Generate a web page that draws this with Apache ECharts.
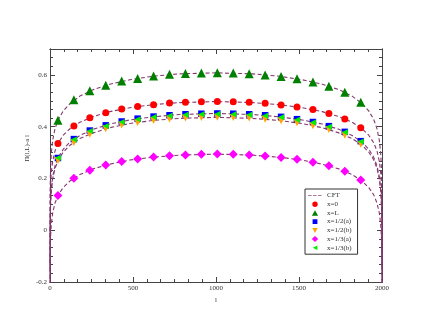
<!DOCTYPE html>
<html>
<head>
<meta charset="utf-8">
<script src="https://cdn.jsdelivr.net/npm/echarts@6/dist/echarts.min.js"></script>
<style>html,body{margin:0;padding:0;background:#fff}#c{width:430px;height:332px}</style>
</head>
<body>
<div id="c"></div>
<script>
// Marker positions (l)
var markerL = [48,144,240,336,432,528,624,720,816,912,1008,1104,1200,1296,1392,1488,1584,1680,1776,1872];
var x0 = [0.335,0.403,0.434,0.454,0.468,0.478,0.485,0.491,0.494,0.496,0.497,0.496,0.494,0.490,0.484,0.476,0.466,0.451,0.430,0.396];
var xL = [0.425,0.504,0.539,0.560,0.576,0.586,0.596,0.602,0.605,0.607,0.608,0.607,0.604,0.600,0.594,0.585,0.573,0.556,0.533,0.494];
var xHalfA = [0.279,0.352,0.385,0.405,0.420,0.431,0.439,0.444,0.448,0.450,0.451,0.450,0.448,0.444,0.438,0.429,0.418,0.402,0.380,0.344];
var xHalfB = [0.269,0.339,0.371,0.392,0.406,0.416,0.424,0.430,0.433,0.435,0.436,0.435,0.433,0.429,0.423,0.415,0.404,0.389,0.367,0.332];
var xThirdA = [0.134,0.201,0.232,0.252,0.265,0.275,0.283,0.288,0.291,0.293,0.294,0.293,0.291,0.287,0.281,0.274,0.263,0.249,0.228,0.194];
var xThirdB = [0.280,0.350,0.383,0.403,0.418,0.429,0.437,0.442,0.446,0.448,0.449,0.448,0.446,0.442,0.436,0.427,0.416,0.400,0.378,0.343];

// CFT curves sampled at l
var cftL = [0.02,0.1,0.5,1,2,4,8,16,30,50,80,120,180,260,360,480,620,780,1000,1220,1380,1520,1640,1740,1820,1880,1920,1950,1970,1984,1992,1996,1998,1999,1999.5,1999.9,1999.98];
var cftX0 = [-0.152,-0.051,0.050,0.093,0.136,0.180,0.223,0.266,0.306,0.338,0.367,0.392,0.417,0.439,0.458,0.473,0.485,0.493,0.497,0.493,0.485,0.473,0.458,0.439,0.417,0.392,0.367,0.338,0.306,0.266,0.223,0.180,0.136,0.093,0.050,-0.051,-0.152];
var cftXL = [-0.126,-0.012,0.102,0.151,0.200,0.249,0.298,0.347,0.392,0.428,0.461,0.489,0.518,0.543,0.564,0.581,0.595,0.604,0.608,0.604,0.595,0.581,0.564,0.543,0.518,0.489,0.461,0.428,0.392,0.347,0.298,0.249,0.200,0.151,0.102,-0.012,-0.126];
var cftHalfA = [-0.239,-0.132,-0.024,0.022,0.068,0.114,0.160,0.206,0.248,0.282,0.313,0.340,0.366,0.390,0.410,0.426,0.438,0.447,0.451,0.447,0.438,0.426,0.410,0.390,0.366,0.340,0.313,0.282,0.248,0.206,0.160,0.114,0.068,0.022,-0.024,-0.132,-0.239];
var cftHalfB = [-0.234,-0.130,-0.026,0.019,0.064,0.109,0.153,0.198,0.239,0.272,0.302,0.328,0.354,0.376,0.396,0.412,0.424,0.432,0.436,0.432,0.424,0.412,0.396,0.376,0.354,0.328,0.302,0.272,0.239,0.198,0.153,0.109,0.064,0.019,-0.026,-0.130,-0.234];
var cftThirdA = [-0.348,-0.248,-0.149,-0.106,-0.063,-0.020,0.023,0.066,0.105,0.137,0.165,0.190,0.215,0.237,0.255,0.271,0.282,0.290,0.294,0.290,0.282,0.271,0.255,0.237,0.215,0.190,0.165,0.137,0.105,0.066,0.023,-0.020,-0.063,-0.106,-0.149,-0.248,-0.348];

var legendNames = ['CFT','x=0','x=L','x=1/2(a)','x=1/2(b)','x=1/3(a)','x=1/3(b)'];

function pairs(xs, ys){ return xs.map(function(x,i){ return [x, ys[i]]; }); }

var serif = 'Liberation Serif';
var axisCol = '#444';
var cftColor = '#84386f';

function cft(ys){
  return {name:'CFT', type:'line', data:pairs(cftL, ys), showSymbol:false, symbol:'none',
    xAxisIndex:0, yAxisIndex:0,
    lineStyle:{color:cftColor, width:1.1, type:[4,2.5]}, itemStyle:{color:cftColor}, z:2, clip:true};
}
function sc(name, ys, symbol, size, color){
  return {name:name, type:'scatter', data:pairs(markerL, ys), symbol:symbol, symbolSize:size,
    xAxisIndex:0, yAxisIndex:0,
    itemStyle:{color:color, opacity:1}, z:5};
}

function xAx(pos, interval, len, labels){
  return {
    type:'value', min:0, max:2000, interval:interval, position:pos,
    name: labels ? 'l' : '', nameLocation:'middle', nameGap:12,
    nameTextStyle:{fontFamily:serif, fontSize:7, color:'#333'},
    axisLine:{show:true, onZero:false, lineStyle:{color:axisCol, width:1}},
    axisTick:{show:true, inside:true, length:len, lineStyle:{color:axisCol}},
    minorTick:{show:false},
    axisLabel:{show:!!labels, fontFamily:serif, fontSize:7, color:'#333', margin:3,
      formatter:function(v){ return String(v); }},
    splitLine:{show:false}
  };
}
function yAx(pos, interval, len, labels){
  return {
    type:'value', min:-0.2, max:0.7, interval:interval, position:pos,
    axisLine:{show:true, onZero:false, lineStyle:{color:axisCol, width:1}},
    axisTick:{show:true, inside:true, length:len, lineStyle:{color:axisCol}},
    minorTick:{show:false},
    axisLabel:{show:!!labels, fontFamily:serif, fontSize:7, color:'#333', margin:3, showMaxLabel:false,
      formatter:function(v){ return String(Math.round(v*10)/10); }},
    splitLine:{show:false}
  };
}

// legend icons: shapes centred in a 14x6 box (tiny corner specks fix the bounds)
var B0 = 'M0,0 L0.01,0 L0,0.01 Z ', B1 = ' M13.99,5.99 L14,6 L13.99,6 Z';
var icons = {
  cft: 'path://' + B0 + 'M0,2.4 L3.6,2.4 L3.6,3.6 L0,3.6 Z M5,2.4 L8.6,2.4 L8.6,3.6 L5,3.6 Z M10,2.4 L13.6,2.4 L13.6,3.6 L10,3.6 Z' + B1,
  circle: 'path://' + B0 + 'M4.3,3 A2.7,2.7 0 1 0 9.7,3 A2.7,2.7 0 1 0 4.3,3 Z' + B1,
  up: 'path://' + B0 + 'M3.9,5.8 L10.1,5.8 L7,0.3 Z' + B1,
  square: 'path://' + B0 + 'M4.6,0.6 L9.4,0.6 L9.4,5.4 L4.6,5.4 Z' + B1,
  down: 'path://' + B0 + 'M4.3,0.6 L9.7,0.6 L7,5.6 Z' + B1,
  diamond: 'path://' + B0 + 'M7,0 L10.2,3 L7,6 L3.8,3 Z' + B1,
  left: 'path://' + B0 + 'M9.4,0.7 L9.4,5.3 L4.8,3 Z' + B1
};

var chart = echarts.init(document.getElementById('c'), null, {renderer:'canvas'});
chart.setOption({
  animation:false,
  backgroundColor:'#fff',
  grid:{left:50, right:48, top:49, bottom:50, containLabel:false},
  xAxis:[
    xAx('bottom', 500, 5, true),
    xAx('top', 500, 5, false),
    xAx('bottom', 500/6, 3, false),
    xAx('top', 500/6, 3, false)
  ],
  yAxis:[
    yAx('left', 0.2, 5, true),
    yAx('right', 0.2, 5, false),
    yAx('left', 0.2/6, 3, false),
    yAx('right', 0.2/6, 3, false)
  ],
  legend:{
    data:[
      {name:legendNames[0], icon:icons.cft, itemStyle:{color:'#a8789f'}},
      {name:legendNames[1], icon:icons.circle},
      {name:legendNames[2], icon:icons.up},
      {name:legendNames[3], icon:icons.square},
      {name:legendNames[4], icon:icons.down},
      {name:legendNames[5], icon:icons.diamond},
      {name:legendNames[6], icon:icons.left}
    ],
    orient:'vertical', left:305, top:189,
    itemWidth:14, itemHeight:6, itemGap:1.7,
    padding:[3,6,3,3], borderColor:'#333', borderWidth:1, borderRadius:0,
    backgroundColor:'#fff',
    textStyle:{fontFamily:serif, fontSize:7, color:'#333'}
  },
  graphic:[{
    type:'text', left:24, top:135, rotation:Math.PI/2,
    style:{text:'Π(l,L)-a l', font:'7px "Liberation Serif"', fill:'#333'},
    z:100
  }],
  series:[
    cft(cftX0), cft(cftXL), cft(cftHalfA), cft(cftHalfB), cft(cftThirdA),
    sc('x=0', x0, 'circle', 7, '#ff0000'),
    sc('x=L', xL, 'triangle', 9, '#008000'),
    sc('x=1/2(a)', xHalfA, 'rect', 6.5, '#0000ff'),
    sc('x=1/2(b)', xHalfB, 'path://M0,0 L10,0 L5,10 Z', 7, '#ffa500'),
    sc('x=1/3(a)', xThirdA, 'diamond', 9, '#ff00ff'),
    sc('x=1/3(b)', xThirdB, 'path://M10,0 L10,10 L0,5 Z', 6, '#00ee00')
  ]
});
</script>
</body>
</html>
